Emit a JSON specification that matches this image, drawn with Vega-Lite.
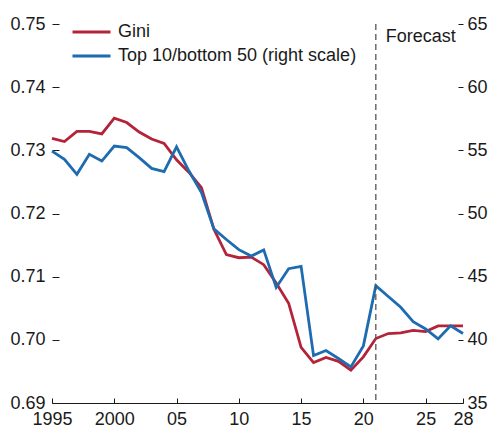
{
  "$schema": "https://vega.github.io/schema/vega-lite/v6.json",
  "width": 411,
  "height": 379,
  "autosize": {"type": "none"},
  "padding": {"left": 52, "top": 24, "right": 28, "bottom": 30},
  "background": "white",
  "config": {
    "view": {"stroke": null},
    "font": "Liberation Sans",
    "axis": {
      "labelFont": "Liberation Sans",
      "labelFontSize": 18,
      "labelColor": "#1a1a1a",
      "tickColor": "#1a1a1a",
      "domainColor": "#1a1a1a",
      "grid": false,
      "title": null
    },
    "legend": {
      "orient": "none",
      "legendX": 28.5,
      "legendY": -3,
      "direction": "vertical",
      "symbolType": "M-2,0H2",
      "symbolStrokeWidth": 3,
      "symbolSize": 361,
      "labelFont": "Liberation Sans",
      "labelFontSize": 18,
      "labelColor": "#1a1a1a",
      "labelOffset": 15.5,
      "labelLimit": 0,
      "rowPadding": 4,
      "title": null
    }
  },
  "datasets": {
    "series": [
      {"year": 1995, "series": "Gini", "value": 0.7319},
      {"year": 1996, "series": "Gini", "value": 0.7314},
      {"year": 1997, "series": "Gini", "value": 0.7330},
      {"year": 1998, "series": "Gini", "value": 0.7330},
      {"year": 1999, "series": "Gini", "value": 0.7326},
      {"year": 2000, "series": "Gini", "value": 0.7351},
      {"year": 2001, "series": "Gini", "value": 0.7344},
      {"year": 2002, "series": "Gini", "value": 0.7329},
      {"year": 2003, "series": "Gini", "value": 0.7318},
      {"year": 2004, "series": "Gini", "value": 0.7311},
      {"year": 2005, "series": "Gini", "value": 0.7285},
      {"year": 2006, "series": "Gini", "value": 0.7265},
      {"year": 2007, "series": "Gini", "value": 0.7241},
      {"year": 2008, "series": "Gini", "value": 0.7175},
      {"year": 2009, "series": "Gini", "value": 0.7135},
      {"year": 2010, "series": "Gini", "value": 0.7130},
      {"year": 2011, "series": "Gini", "value": 0.7131},
      {"year": 2012, "series": "Gini", "value": 0.7119},
      {"year": 2013, "series": "Gini", "value": 0.7090},
      {"year": 2014, "series": "Gini", "value": 0.7058},
      {"year": 2015, "series": "Gini", "value": 0.6988},
      {"year": 2016, "series": "Gini", "value": 0.6964},
      {"year": 2017, "series": "Gini", "value": 0.6972},
      {"year": 2018, "series": "Gini", "value": 0.6966},
      {"year": 2019, "series": "Gini", "value": 0.6952},
      {"year": 2020, "series": "Gini", "value": 0.6973},
      {"year": 2021, "series": "Gini", "value": 0.7002},
      {"year": 2022, "series": "Gini", "value": 0.7010},
      {"year": 2023, "series": "Gini", "value": 0.7011},
      {"year": 2024, "series": "Gini", "value": 0.7015},
      {"year": 2025, "series": "Gini", "value": 0.7013},
      {"year": 2026, "series": "Gini", "value": 0.7022},
      {"year": 2027, "series": "Gini", "value": 0.7022},
      {"year": 2028, "series": "Gini", "value": 0.7022},
      {"year": 1995, "series": "Top 10/bottom 50 (right scale)", "value": 54.94},
      {"year": 1996, "series": "Top 10/bottom 50 (right scale)", "value": 54.29},
      {"year": 1997, "series": "Top 10/bottom 50 (right scale)", "value": 53.10},
      {"year": 1998, "series": "Top 10/bottom 50 (right scale)", "value": 54.68},
      {"year": 1999, "series": "Top 10/bottom 50 (right scale)", "value": 54.15},
      {"year": 2000, "series": "Top 10/bottom 50 (right scale)", "value": 55.34},
      {"year": 2001, "series": "Top 10/bottom 50 (right scale)", "value": 55.21},
      {"year": 2002, "series": "Top 10/bottom 50 (right scale)", "value": 54.42},
      {"year": 2003, "series": "Top 10/bottom 50 (right scale)", "value": 53.57},
      {"year": 2004, "series": "Top 10/bottom 50 (right scale)", "value": 53.31},
      {"year": 2005, "series": "Top 10/bottom 50 (right scale)", "value": 55.27},
      {"year": 2006, "series": "Top 10/bottom 50 (right scale)", "value": 53.36},
      {"year": 2007, "series": "Top 10/bottom 50 (right scale)", "value": 51.66},
      {"year": 2008, "series": "Top 10/bottom 50 (right scale)", "value": 48.78},
      {"year": 2009, "series": "Top 10/bottom 50 (right scale)", "value": 47.94},
      {"year": 2010, "series": "Top 10/bottom 50 (right scale)", "value": 47.14},
      {"year": 2011, "series": "Top 10/bottom 50 (right scale)", "value": 46.63},
      {"year": 2012, "series": "Top 10/bottom 50 (right scale)", "value": 47.12},
      {"year": 2013, "series": "Top 10/bottom 50 (right scale)", "value": 44.15},
      {"year": 2014, "series": "Top 10/bottom 50 (right scale)", "value": 45.63},
      {"year": 2015, "series": "Top 10/bottom 50 (right scale)", "value": 45.82},
      {"year": 2016, "series": "Top 10/bottom 50 (right scale)", "value": 38.75},
      {"year": 2017, "series": "Top 10/bottom 50 (right scale)", "value": 39.15},
      {"year": 2018, "series": "Top 10/bottom 50 (right scale)", "value": 38.52},
      {"year": 2019, "series": "Top 10/bottom 50 (right scale)", "value": 37.86},
      {"year": 2020, "series": "Top 10/bottom 50 (right scale)", "value": 39.52},
      {"year": 2021, "series": "Top 10/bottom 50 (right scale)", "value": 44.29},
      {"year": 2022, "series": "Top 10/bottom 50 (right scale)", "value": 43.43},
      {"year": 2023, "series": "Top 10/bottom 50 (right scale)", "value": 42.58},
      {"year": 2024, "series": "Top 10/bottom 50 (right scale)", "value": 41.43},
      {"year": 2025, "series": "Top 10/bottom 50 (right scale)", "value": 40.86},
      {"year": 2026, "series": "Top 10/bottom 50 (right scale)", "value": 40.07},
      {"year": 2027, "series": "Top 10/bottom 50 (right scale)", "value": 41.11},
      {"year": 2028, "series": "Top 10/bottom 50 (right scale)", "value": 40.50}
    ],
    "forecast": [
      {"year": 2021, "label": "Forecast", "level": 0.7479}
    ]
  },
  "layer": [
    {
      "data": {"name": "series"},
      "transform": [{"filter": "datum.series === 'Gini'"}],
      "mark": {"type": "line", "strokeWidth": 2.8},
      "encoding": {
        "x": {
          "field": "year",
          "type": "quantitative",
          "scale": {"domain": [1995, 2028], "nice": false, "zero": false},
          "axis": {
            "values": [1995, 2000, 2005, 2010, 2015, 2020, 2025, 2028],
            "format": "d",
            "labelExpr": "datum.value <= 2000 ? datum.label : slice(datum.label, 2)",
            "tickSize": -5,
            "labelPadding": 12,
            "domain": true,
            "labelFlush": false,
            "labelOverlap": false
          }
        },
        "y": {
          "field": "value",
          "type": "quantitative",
          "scale": {"domain": [0.69, 0.75], "nice": false, "zero": false},
          "axis": {
            "orient": "left",
            "values": [0.69, 0.70, 0.71, 0.72, 0.73, 0.74, 0.75],
            "format": ".2f",
            "domain": false,
            "tickSize": -7,
            "labelPadding": 14
          }
        },
        "color": {
          "field": "series",
          "type": "nominal",
          "scale": {
            "domain": ["Gini", "Top 10/bottom 50 (right scale)"],
            "range": ["#b3243a", "#1d6bb0"]
          }
        }
      }
    },
    {
      "data": {"name": "series"},
      "transform": [{"filter": "datum.series !== 'Gini'"}],
      "mark": {"type": "line", "strokeWidth": 2.8},
      "encoding": {
        "x": {"field": "year", "type": "quantitative"},
        "y": {
          "field": "value",
          "type": "quantitative",
          "scale": {"domain": [35, 65], "nice": false, "zero": false},
          "axis": {
            "orient": "right",
            "values": [35, 40, 45, 50, 55, 60, 65],
            "domain": false,
            "tickSize": -5,
            "labelPadding": 9
          }
        },
        "color": {"field": "series", "type": "nominal"}
      }
    },
    {
      "data": {"name": "forecast"},
      "mark": {"type": "rule", "strokeDash": [6, 4], "color": "#555555", "strokeWidth": 1.3},
      "encoding": {
        "x": {"field": "year", "type": "quantitative"}
      }
    },
    {
      "data": {"name": "forecast"},
      "mark": {"type": "text", "align": "left", "baseline": "middle", "dx": 10, "fontSize": 18, "font": "Liberation Sans", "color": "#1a1a1a"},
      "encoding": {
        "x": {"field": "year", "type": "quantitative"},
        "y": {"field": "level", "type": "quantitative", "scale": {"domain": [0.69, 0.75], "nice": false, "zero": false}, "axis": null},
        "text": {"field": "label"}
      }
    }
  ],
  "resolve": {"scale": {"y": "independent"}}
}
